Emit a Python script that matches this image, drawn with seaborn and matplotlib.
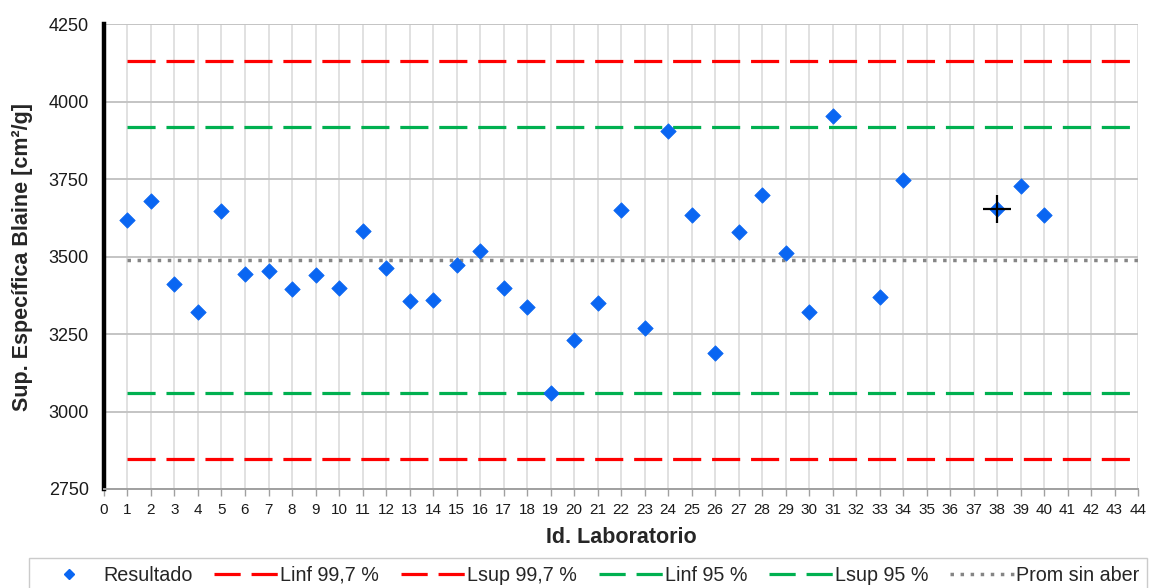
import numpy as np
import pandas as pd
import matplotlib
matplotlib.use("Agg")
import matplotlib.pyplot as plt
import seaborn as sns
from matplotlib.lines import Line2D

# Resultados por laboratorio (superficie específica Blaine, cm²/g)
laboratorios = [1, 2, 3, 4, 5, 6, 7, 8, 9, 10, 11, 12, 13, 14, 15, 16, 17, 18, 19, 20,
                21, 22, 23, 24, 25, 26, 27, 28, 29, 30, 31, 33, 34, 38, 39, 40]
resultados = [3618, 3678, 3411, 3321, 3648, 3445, 3453, 3394, 3440, 3399, 3582, 3462,
              3358, 3359, 3472, 3518, 3397, 3337, 3059, 3230, 3349, 3649, 3268, 3904,
              3634, 3188, 3579, 3697, 3512, 3320, 3955, 3370, 3747, 3653, 3728, 3634]
destacado_lab = [38]
destacado_valor = [3653]

# Límites de control
prom_sin_aber = 3489
linf_997 = 2847
lsup_997 = 4132
linf_95 = 3060
lsup_95 = 3918
x_limites = [1, 44]

sns.set_theme(style="white")
plt.rcParams["font.family"] = ["Liberation Sans", "DejaVu Sans"]

fig = plt.figure(figsize=(11.49, 5.88), dpi=100)
ax = fig.add_axes([0.0905, 0.1684, 0.9, 0.7906])

df = pd.DataFrame({"lab": laboratorios, "valor": resultados})

# Líneas de límite
lim_style = dict(linewidth=2.3, dashes=(8.8, 3.4))
sns.lineplot(x=x_limites, y=[linf_997] * 2, color="#ff0000", ax=ax, **lim_style)
sns.lineplot(x=x_limites, y=[lsup_997] * 2, color="#ff0000", ax=ax, **lim_style)
sns.lineplot(x=x_limites, y=[linf_95] * 2, color="#00b050", ax=ax, **lim_style)
sns.lineplot(x=x_limites, y=[lsup_95] * 2, color="#00b050", ax=ax, **lim_style)
sns.lineplot(x=x_limites, y=[prom_sin_aber] * 2, color="#858585", ax=ax,
             linewidth=2.5, dashes=(1, 1.9))

# Resultados
sns.scatterplot(data=df, x="lab", y="valor", marker="D", s=62, color="#0a66f2",
                edgecolor="#0a66f2", linewidth=0.5, ax=ax, zorder=5)
ax.scatter(destacado_lab, destacado_valor, marker="+", s=420, color="black",
           linewidths=1.6, zorder=6)

ax.set_xlim(0, 44)
ax.set_ylim(2750, 4250)
ax.set_xticks(np.arange(0, 45, 1))
ax.set_yticks(np.arange(2750, 4251, 250))

ax.grid(True, axis="x", color="#dcdcdc", linewidth=1.2)
ax.grid(True, axis="y", color="#c4c4c4", linewidth=1.4)
ax.set_axisbelow(True)

for side in ["top", "right"]:
    ax.spines[side].set_visible(False)
ax.spines["bottom"].set_color("#a0a0a0")
ax.spines["bottom"].set_linewidth(1.4)
ax.spines["left"].set_color("black")
ax.spines["left"].set_linewidth(3.2)

ax.tick_params(axis="x", which="major", bottom=True, length=5, width=1.0,
               color="#a0a0a0", labelsize=11, labelcolor="#1a1a1a", pad=5)
ax.tick_params(axis="y", which="major", left=False, length=0, labelsize=13,
               labelcolor="#1a1a1a", pad=11)

ax.set_xlabel("Id. Laboratorio", fontsize=15.5, fontweight="bold", labelpad=7)
ax.set_ylabel("Sup. Específica Blaine [cm²/g]", fontsize=15.5, fontweight="bold",
              labelpad=11)

handles = [
    Line2D([], [], marker="D", linestyle="none", color="#0a66f2", markersize=5.5),
    Line2D([], [], color="#ff0000", linewidth=2.3, dashes=(8.2, 3.4)),
    Line2D([], [], color="#ff0000", linewidth=2.3, dashes=(8.2, 3.4)),
    Line2D([], [], color="#00b050", linewidth=2.3, dashes=(8.2, 3.4)),
    Line2D([], [], color="#00b050", linewidth=2.3, dashes=(8.2, 3.4)),
    Line2D([], [], color="#858585", linewidth=2.5, dashes=(1, 1.9)),
]
labels = ["Resultado", "Linf 99,7 %", "Lsup 99,7 %", "Linf 95 %", "Lsup 95 %",
          "Prom sin aber"]
leg = fig.legend(handles, labels, loc="upper center", ncol=6,
                 bbox_to_anchor=(0.512, 0.051), fontsize=14.2,
                 frameon=True, fancybox=False, handlelength=3.25, handletextpad=0.1,
                 columnspacing=1.1, borderpad=0.4, borderaxespad=0)
leg.get_frame().set_edgecolor("#bfbfbf")
leg.get_frame().set_linewidth(1.0)

fig.savefig("out.png", dpi=100)
